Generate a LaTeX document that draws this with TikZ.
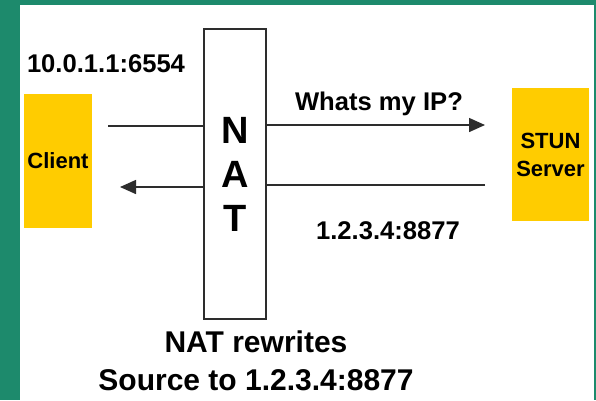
\documentclass[tikz,border=0pt]{standalone}
\usepackage{fontspec}
\setmainfont{Liberation Sans}
\usetikzlibrary{calc,arrows.meta,positioning}

\definecolor{slidegreen}{RGB}{29,138,108}
\definecolor{hostyellow}{RGB}{255,204,0}
\definecolor{wiregray}{RGB}{45,45,45}

\begin{document}
\begin{tikzpicture}[x=1pt,y=-1pt]
	\tikzstyle{host} = [fill=hostyellow,font=\fontsize{22}{28}\selectfont\bfseries,align=center,inner sep=0pt]
	\tikzstyle{addr} = [font=\fontsize{25.6}{30}\selectfont\bfseries,inner sep=0pt]
	\tikzstyle{wire} = [draw=wiregray,line width=1.5pt,>={Triangle[length=16pt,width=14pt]}]

	\useasboundingbox (0,0) rectangle (596,400);
	\fill[slidegreen] (0,0) rectangle (596,400);
	\fill[white] (20,5) rectangle (594,400);

	\node[host,minimum width=68pt,minimum height=134pt] (Client) at (58,161) {Client};
	\node[host,minimum width=77pt,minimum height=133pt] (Stun) at (550.5,154.5) {STUN\\Server};
	\node[draw=wiregray,line width=1.5pt,minimum width=62pt,minimum height=290pt,inner sep=0pt,
		align=center,font=\fontsize{38}{44}\selectfont\bfseries] (Nat) at (235,174) {N\\A\\T};

	\coordinate (ClientOut) at (108,126);
	\coordinate[below=61pt of ClientOut,xshift=12pt] (ClientIn);
	\coordinate (StunIn) at (485,125);
	\coordinate[below=60pt of StunIn] (StunOut);

	\node[addr] (PrivAddr) at (106,63.5) {10.0.1.1:6554};
	\node[addr,anchor=base] (Query) at (379,110) {Whats my IP?};
	\node[addr] (PubAddr) at (388,231) {1.2.3.4:8877};
	\node[addr,font=\fontsize{30}{38}\selectfont\bfseries,align=center] (Rewrite) at (256,361)
		{NAT rewrites\\Source to 1.2.3.4:8877};

	\draw[wire] (ClientOut) -- (ClientOut -| Nat.west);
	\draw[wire,->] (Nat.east |- StunIn) -- (StunIn);
	\draw[wire] (StunOut) -- (StunOut -| Nat.east);
	\draw[wire,->] (ClientIn -| Nat.west) -- (ClientIn);
\end{tikzpicture}
\end{document}
